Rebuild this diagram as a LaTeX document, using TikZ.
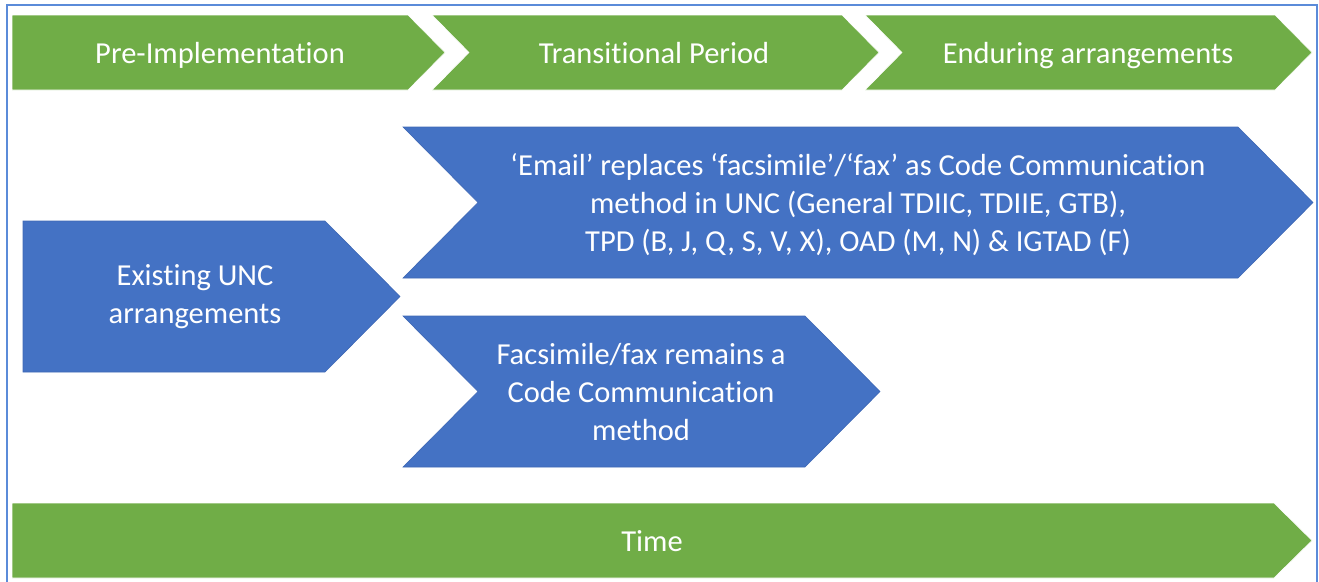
\documentclass[tikz,border=0pt]{standalone}
\usepackage{fontspec}
\setmainfont{Carlito}[Ligatures={NoCommon,NoDiscretionary,NoRare,NoContextual},Contextuals={NoAlternate}]
\definecolor{offgreen}{HTML}{70AD47}
\definecolor{offblue}{HTML}{4472C4}
\definecolor{offblueline}{HTML}{3F68B5}
\definecolor{frameblue}{HTML}{5B8BD9}
\begin{document}
\begin{tikzpicture}[x=1pt,y=-1pt,
  greenshape/.style={fill=offgreen,draw=white,line width=0.6pt},
  blueshape/.style={fill=offblue,draw=offblueline,line width=0.6pt},
  label/.style={text=white,font=\fontsize{30.5}{38}\selectfont,align=center,inner sep=0pt}]
\useasboundingbox (0,0) rectangle (1319,581);
% frame
\draw[frameblue,line width=2pt] (6.5,590) -- (6.5,5) -- (1317,5) -- (1317,590);
% top chevrons
\path[greenshape] (12,15) -- (408,15) -- (445,52.5) -- (408,90) -- (12,90) -- cycle;
\path[greenshape] (432,15) -- (842,15) -- (879,52.5) -- (842,90) -- (432,90) -- (469,52.5) -- cycle;
\path[greenshape] (865,15) -- (1275,15) -- (1312,52.5) -- (1275,90) -- (865,90) -- (902,52.5) -- cycle;
\node[label,anchor=base] (pre) at (220,63) {Pre-Implementation};
\node[label,anchor=base] (trans) at (654,63) {Transitional Period};
\node[label,anchor=base] (endur) at (1088,63) {Enduring arrangements};
% blue shapes
\path[blueshape] (23,221) -- (325,221) -- (400,296.5) -- (325,372) -- (23,372) -- cycle;
\path[blueshape] (403,127) -- (1238,127) -- (1313,202.5) -- (1238,278) -- (403,278) -- (478,202.5) -- cycle;
\path[blueshape] (403,316) -- (805,316) -- (880,391.5) -- (805,467) -- (403,467) -- (478,391.5) -- cycle;
\node[label] (exist) at (195,297) {Existing UNC\\arrangements};
\node[label] (email) at (858,205) {‘Email’ replaces ‘facsimile’/‘fax’ as Code Communication\\method in UNC (General TDIIC, TDIIE, GTB),\\TPD (B, J, Q, S, V, X), OAD (M, N) \& IGTAD (F)};
\node[label] (fax) at (641,392) {Facsimile/fax remains a\\Code Communication\\method};
% time bar
\path[greenshape] (12,503) -- (1274,503) -- (1312,540.5) -- (1274,578) -- (12,578) -- cycle;
\node[label] (time) at (652,541) {Time};
\end{tikzpicture}
\end{document}
